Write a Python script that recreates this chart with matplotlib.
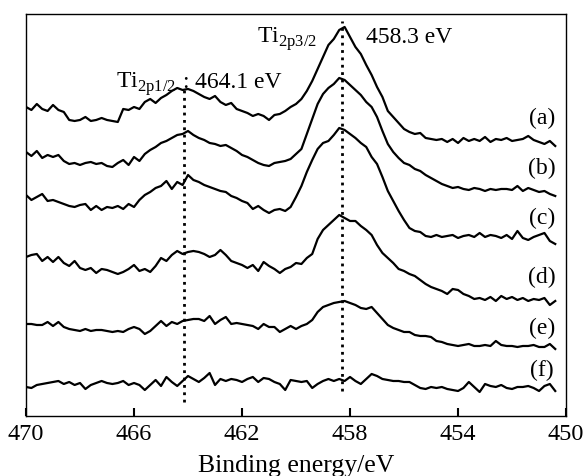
import numpy as np
import matplotlib
matplotlib.use("Agg")
import matplotlib.pyplot as plt

plt.rcParams['font.family'] = ['Liberation Serif', 'DejaVu Serif']
plt.rcParams['mathtext.fontset'] = 'custom'
plt.rcParams['mathtext.rm'] = 'Liberation Serif'

# binding energy grid (eV), 0.2 eV step
energy = np.linspace(470.0, 450.4, 99)

# intensities (a.u.), curves stacked as in the figure
spec_a = [312, 309, 315, 310, 308, 314, 309, 307, 299, 298,
          299, 302, 298, 299, 301, 299, 298, 297, 310, 309,
          312, 310, 317, 320, 316, 321, 324, 328, 331, 329,
          330, 328, 325, 322, 320, 323, 317, 314, 316, 310,
          308, 306, 303, 305, 303, 299, 304, 305, 308, 312,
          315, 320, 328, 338, 350, 362, 374, 380, 389, 392,
          382, 372, 365, 354, 344, 332, 322, 308, 302, 296,
          290, 287, 285, 286, 281, 280, 279, 280, 277, 280,
          276, 281, 278, 280, 278, 282, 277, 280, 279, 281,
          278, 279, 280, 283, 279, 277, 275, 278, 273]
spec_b = [267, 263, 268, 261, 264, 262, 264, 258, 255, 256,
          254, 256, 257, 255, 256, 253, 252, 256, 259, 254,
          262, 258, 265, 269, 272, 276, 278, 281, 284, 285,
          288, 284, 281, 279, 276, 275, 273, 274, 271, 268,
          264, 262, 259, 256, 254, 253, 256, 257, 258, 260,
          265, 270, 285, 300, 315, 325, 331, 335, 341, 339,
          334, 329, 324, 317, 312, 302, 288, 275, 267, 261,
          256, 254, 250, 248, 244, 241, 238, 235, 233, 231,
          232, 230, 229, 231, 230, 228, 230, 229, 230, 230,
          229, 233, 228, 231, 229, 227, 228, 225, 223]
spec_c = [224, 219, 222, 225, 218, 219, 217, 215, 213, 212,
          214, 215, 209, 213, 209, 212, 211, 213, 210, 215,
          212, 219, 224, 227, 231, 233, 238, 230, 237, 234,
          244, 239, 237, 234, 232, 230, 228, 227, 223, 221,
          218, 216, 210, 213, 209, 206, 209, 210, 208, 212,
          222, 233, 247, 259, 270, 276, 278, 284, 291, 289,
          285, 281, 276, 272, 262, 255, 242, 228, 218, 208,
          199, 191, 188, 187, 183, 182, 184, 182, 183, 184,
          181, 183, 184, 182, 186, 182, 184, 183, 181, 184,
          180, 188, 181, 179, 182, 184, 186, 178, 175]
spec_d = [162, 164, 165, 158, 162, 157, 162, 156, 153, 158,
          151, 149, 151, 146, 150, 149, 147, 145, 147, 150,
          154, 148, 150, 147, 153, 161, 158, 164, 168, 165,
          167, 168, 167, 165, 162, 164, 169, 164, 158, 156,
          154, 151, 154, 148, 157, 153, 150, 146, 150, 152,
          156, 155, 161, 165, 180, 189, 194, 199, 204, 201,
          198, 198, 193, 189, 184, 174, 166, 161, 156, 150,
          148, 145, 143, 139, 135, 132, 130, 128, 125, 130,
          129, 125, 123, 120, 121, 119, 122, 118, 123, 120,
          122, 119, 121, 118, 120, 119, 121, 114, 118]
spec_e = [95, 95, 94, 94, 97, 93, 97, 92, 90, 89,
          88, 90, 88, 89, 89, 88, 87, 88, 87, 90,
          92, 90, 85, 88, 93, 98, 93, 97, 95, 98,
          99, 100, 100, 98, 103, 95, 99, 102, 95, 96,
          95, 94, 93, 90, 95, 92, 92, 87, 90, 93,
          90, 93, 95, 99, 107, 112, 114, 116, 117, 118,
          116, 114, 111, 110, 112, 106, 100, 94, 91, 89,
          87, 87, 84, 83, 83, 82, 78, 77, 75, 74,
          73, 74, 75, 73, 73, 74, 73, 78, 74, 73,
          73, 72, 73, 73, 74, 72, 72, 75, 70]
spec_f = [32, 31, 34, 35, 36, 37, 38, 35, 37, 34,
          36, 30, 34, 36, 38, 36, 35, 36, 38, 34,
          36, 34, 29, 34, 39, 33, 42, 37, 33, 38,
          43, 40, 37, 41, 46, 34, 40, 38, 40, 39,
          37, 40, 42, 37, 41, 40, 37, 35, 29, 39,
          38, 37, 38, 31, 35, 38, 40, 38, 40, 38,
          42, 38, 35, 40, 45, 43, 40, 39, 38, 38,
          37, 37, 34, 31, 30, 32, 31, 32, 30, 29,
          28, 31, 37, 32, 27, 35, 33, 32, 34, 31,
          30, 32, 32, 33, 31, 28, 33, 35, 28]

labels = ['(a)', '(b)', '(c)', '(d)', '(e)', '(f)']
label_y = [302, 252, 202, 143, 92, 50]
peaks = [464.15, 458.3]

fig = plt.figure(figsize=(5.87, 4.77), dpi=100)
ax = fig.add_axes([0.0443, 0.1258, 0.92, 0.8428])

for s in [spec_a, spec_b, spec_c, spec_d, spec_e, spec_f]:
    ax.plot(energy, s, color='black', lw=1.6)

# peak position guide lines
ax.plot([peaks[0], peaks[0]], [17, 330], color='black', ls=':', lw=2)
ax.plot([peaks[1], peaks[1]], [28, 398], color='black', ls=':', lw=2)

for lab, yy in zip(labels, label_y):
    ax.text(450.9, yy, lab, fontsize=17, ha='center', va='center')

ax.text(466.65, 332, r'Ti$_{\rm 2p1/2}$', fontsize=17, ha='left', va='baseline')
ax.text(464.2, 332, ':', fontsize=17, ha='left', va='baseline')
ax.text(463.75, 332, '464.1 eV', fontsize=17, ha='left', va='baseline')
ax.text(461.45, 377, r'Ti$_{\rm 2p3/2}$', fontsize=17, ha='left', va='baseline')
ax.text(457.4, 377, '458.3 eV', fontsize=17, ha='left', va='baseline')

ax.set_xlim(470, 450)
ax.set_ylim(3, 405)
ax.set_xticks([470, 466, 462, 458, 454, 450])
ax.set_yticks([])
ax.tick_params(axis='x', direction='in', length=6, width=1.5, labelsize=17.5, pad=5)
ax.set_xlabel('Binding energy/eV', fontsize=18.5, labelpad=7)
for sp in ax.spines.values():
    sp.set_linewidth(1.0)

fig.savefig('out.png', dpi=100)
